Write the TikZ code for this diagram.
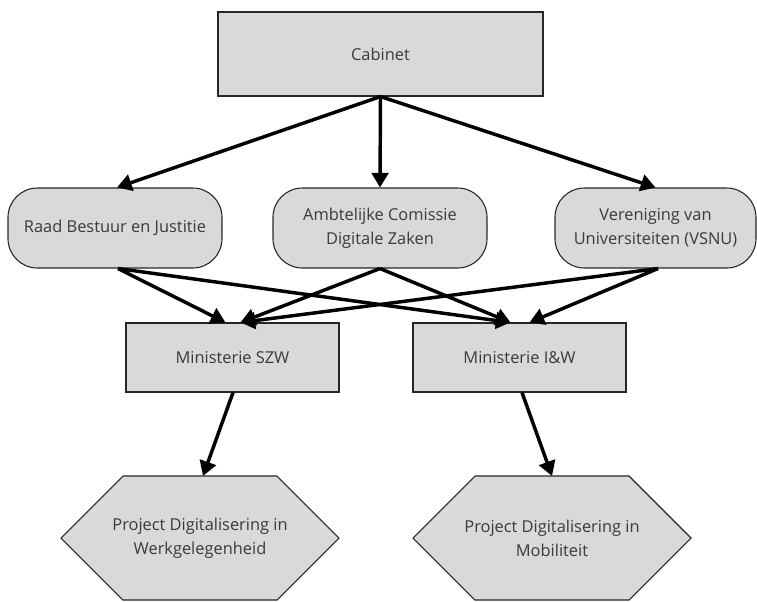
\documentclass[tikz,border=0pt]{standalone}
\usepackage{fontspec}
\setmainfont{Open Sans}
\usetikzlibrary{arrows.meta}
\usetikzlibrary{calc}
\usetikzlibrary{backgrounds}
\definecolor{boxgray}{HTML}{D9D9D9}
\definecolor{txtgray}{HTML}{3A3A3A}
\tikzset{
    govbox/.style = {rectangle, draw=black!85, line width=0.8pt, fill=boxgray, text=txtgray, align=center, inner sep=2pt},
    boardbox/.style = {govbox, rounded corners=22pt, minimum height=60pt},
    minbox/.style = {govbox, minimum width=159.75pt, minimum height=51.75pt},
    projtext/.style = {rectangle, text=txtgray, align=center, outer sep=0pt, minimum width=208.5pt, minimum height=93pt},
    hexline/.style = {draw=black!85, line width=0.8pt, fill=boxgray},
    edgek/.style = {-{Triangle[length=11pt,width=12.5pt]}, line width=2.6pt, black}
}
\begin{document}
\begin{tikzpicture}[x=0.75pt, y=-0.75pt, font=\fontsize{12.3}{18}\selectfont]
  \useasboundingbox (0,0) rectangle (757,601);

  \node[govbox, minimum width=243.75pt, minimum height=63pt] (cab) at (380.5,54) {Cabinet};

  \node[boardbox, minimum width=160.5pt] (raad) at (115,228) {Raad Bestuur en Justitie};
  \node[boardbox, minimum width=160.5pt] (amb) at (380,228) {Ambtelijke Comissie\\Digitale Zaken};
  \node[boardbox, minimum width=150.75pt] (ver) at (655.5,228) {Vereniging van\\Universiteiten (VSNU)};

  \node[minbox] (szw) at (232.5,357.5) {Ministerie SZW};
  \node[minbox] (iaw) at (519.5,357.5) {Ministerie I\&W};

  \node[projtext] (werk) at (200,538) {Project Digitalisering in\\Werkgelegenheid};
  \node[projtext] (mob) at (552,538) {Project Digitalisering in\\Mobiliteit};

  % zeshoeken achter de projecten
  \begin{scope}[on background layer]
    \foreach \p in {werk,mob}
      \draw[hexline] (\p.west) -- ($(\p.north)+(-77,0)$) -- ($(\p.north)+(77,0)$) -- (\p.east)
        -- ($(\p.south)+(77,0)$) -- ($(\p.south)+(-77,0)$) -- cycle;
  \end{scope}

  % cabinet naar raden
  \draw[edgek] (cab.south) -- ($(raad.north)+(2,0)$);
  \draw[edgek] (cab.south) -- (amb.north);
  \draw[edgek] (cab.south) -- (ver.north);

  % raden naar ministeries
  \draw[edgek] ($(raad.south)+(3,0)$) -- ($(szw.north)+(-7,0)$);
  \draw[edgek] ($(raad.south)+(3,0)$) -- ($(iaw.north)+(-9,0)$);
  \draw[edgek] (amb.south) -- ($(szw.north)+(8,0)$);
  \draw[edgek] (amb.south) -- ($(iaw.north)+(-9,0)$);
  \draw[edgek] ($(ver.south)+(2.5,0)$) -- ($(szw.north)+(8,0)$);
  \draw[edgek] ($(ver.south)+(2.5,0)$) -- ($(iaw.north)+(10,0)$);

  % ministeries naar projecten
  \draw[edgek] ($(szw.south)+(0.5,0)$) -- ($(werk.north)+(3,0)$);
  \draw[edgek] ($(iaw.south)+(2.5,0)$) -- (mob.north);
\end{tikzpicture}
\end{document}
